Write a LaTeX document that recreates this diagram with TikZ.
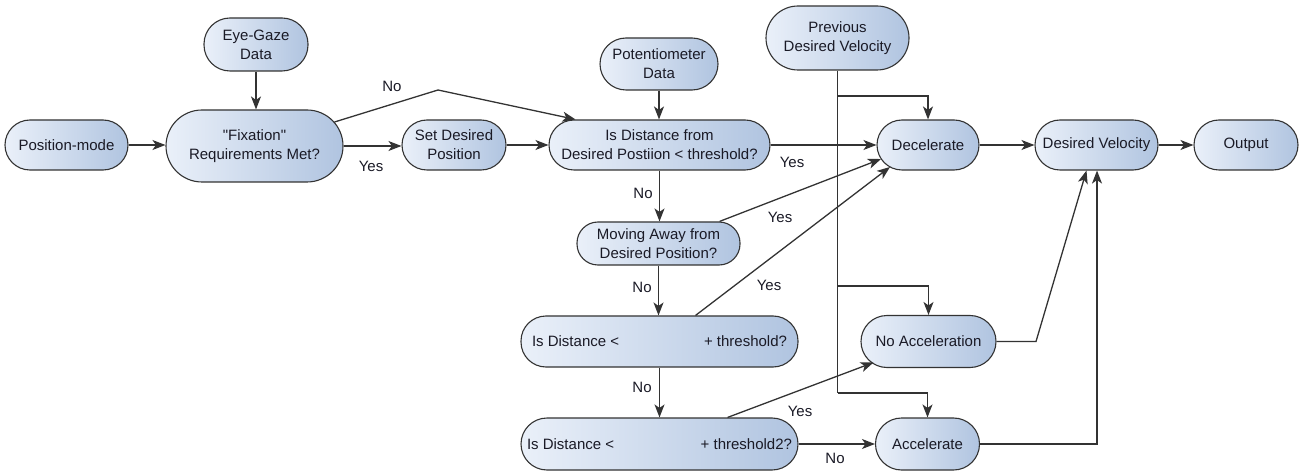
\documentclass[tikz,border=0pt]{standalone}
\usepackage{fontspec}
\setmainfont{Liberation Sans}
\usetikzlibrary{arrows.meta,calc}
\definecolor{boxL}{HTML}{EAF0F9}
\definecolor{boxR}{HTML}{B0C4E0}
\definecolor{edgec}{HTML}{333333}
\definecolor{txt}{HTML}{1A1A26}
\begin{document}
\begin{tikzpicture}[x=1bp,y=-1bp,
  box/.style={draw=edgec, line width=1.1bp, left color=boxL, right color=boxR, text=txt, align=center, inner sep=0pt, font=\fontsize{15bp}{19bp}\selectfont},
  arr/.style={draw=edgec, line width=1.3bp, -{Stealth[length=13bp,width=10bp,inset=3.5bp]}},
  ln/.style={draw=edgec, line width=1.3bp},
  lbl/.style={text=txt, font=\fontsize{15bp}{19bp}\selectfont, inner sep=0pt}]
\useasboundingbox (0,0) rectangle (1299,472);
% nodes
\node[box, minimum width=123bp, minimum height=50bp, rounded corners=25bp] (pm) at (66.5,145) {Position-mode};
\node[box, minimum width=104bp, minimum height=53bp, rounded corners=26bp] (eye) at (256,44.5) {Eye-Gaze\\Data};
\node[box, minimum width=177bp, minimum height=72bp, rounded corners=36bp] (fix) at (254.5,146) {\textquotedbl Fixation\textquotedbl\\Requirements Met?};
\node[box, minimum width=104bp, minimum height=50bp, rounded corners=25bp] (set) at (454,145) {Set Desired\\Position};
\node[box, minimum width=118bp, minimum height=52bp, rounded corners=26bp] (pot) at (659,64) {Potentiometer\\Data};
\node[box, minimum width=221bp, minimum height=50bp, rounded corners=25bp] (isd) at (659.5,145) {Is Distance from\\Desired Postiion < threshold?};
\node[box, minimum width=143bp, minimum height=64bp, rounded corners=32bp] (prev) at (837.5,38) {Previous\\Desired Velocity};
\node[box, minimum width=102bp, minimum height=50bp, rounded corners=25bp] (dec) at (928,145) {Decelerate};
\node[box, minimum width=123bp, minimum height=50bp, rounded corners=25bp] (dv) at (1096.5,145) {Desired Velocity};
\node[box, minimum width=104bp, minimum height=50bp, rounded corners=25bp] (out) at (1246,145) {Output};
\node[box, minimum width=163bp, minimum height=43bp, rounded corners=21bp] (mov) at (658.5,243.5) {Moving Away from\\Desired Position?};
\node[box, minimum width=277bp, minimum height=51bp, rounded corners=25bp] (isdl) at (659.5,341.5) {\makebox[255bp]{Is Distance <\hfill + threshold?}};
\node[box, minimum width=135bp, minimum height=52bp, rounded corners=26bp] (noacc) at (928.5,341.5) {No Acceleration};
\node[box, minimum width=277bp, minimum height=52bp, rounded corners=26bp] (isd2) at (659.5,444) {\makebox[265bp]{Is Distance <\hfill + threshold2?}};
\node[box, minimum width=104bp, minimum height=52bp, rounded corners=26bp] (acc) at (927.5,444) {Accelerate};
% coordinates
\coordinate (nob) at (438,90);
\coordinate (j1) at (837.5,96);
\coordinate (j2) at (837.5,286);
\coordinate (j3) at (837.5,393);
\coordinate (k1) at (1036,341.5);
\coordinate (k2) at (1097,444);
% connectors
\draw[arr] (pm.east) -- (pm.east -| fix.west);
\draw[arr] (eye.south) -- (eye.south |- fix.north);
\draw[arr] (fix.east) -- (fix.east -| set.west);
\draw[arr] ($(fix.center)+(80,-24)$) -- (nob) -- ($(isd.north)+(-84,0)$);
\draw[arr] (set.east) -- (set.east -| isd.west);
\draw[arr] (pot.south) -- (pot.south |- isd.north);
\draw[arr] (isd.east) -- (isd.east -| dec.west);
\draw[arr] (isd.south) -- (isd.south |- mov.north);
\draw[arr] ($(mov.north)+(61,0)$) -- ($(dec.center)+(-47,14)$);
\draw[arr] ($(isdl.north)+(36,0)$) -- ($(dec.center)+(-38,22)$);
\draw[arr] (mov.south) -- (mov.south |- isdl.north);
\draw[arr] (isdl.south) -- (isdl.south |- isd2.north);
\draw[arr] ($(isd2.north)+(68,0)$) -- ($(noacc.center)+(-55,21)$);
\draw[arr] (isd2.east) -- (isd2.east -| acc.west);
\draw[ln] (prev.south) -- (j3);
\draw[arr] (j1) -| (dec.north);
\draw[arr] (j2) -| (noacc.north);
\draw[arr] (j3) -| (acc.north);
\draw[arr] (dec.east) -- (dec.east -| dv.west);
\draw[arr] (dv.east) -- (dv.east -| out.west);
\draw[arr] (noacc.east) -- (k1) -- ($(dv.south)+(-10,0)$);
\draw[arr] (acc.east) -- (k2) -- (k2 |- dv.south);
% labels
\node[lbl] (l1) at (392,86) {No};
\node[lbl] (l2) at (371,166) {Yes};
\node[lbl] (l3) at (792,162) {Yes};
\node[lbl] (l4) at (643,193) {No};
\node[lbl] (l5) at (780,217) {Yes};
\node[lbl] (l6) at (769,285) {Yes};
\node[lbl] (l7) at (642,287) {No};
\node[lbl] (l8) at (642,387) {No};
\node[lbl] (l9) at (800,411) {Yes};
\node[lbl] (l10) at (835,458) {No};
\end{tikzpicture}
\end{document}
